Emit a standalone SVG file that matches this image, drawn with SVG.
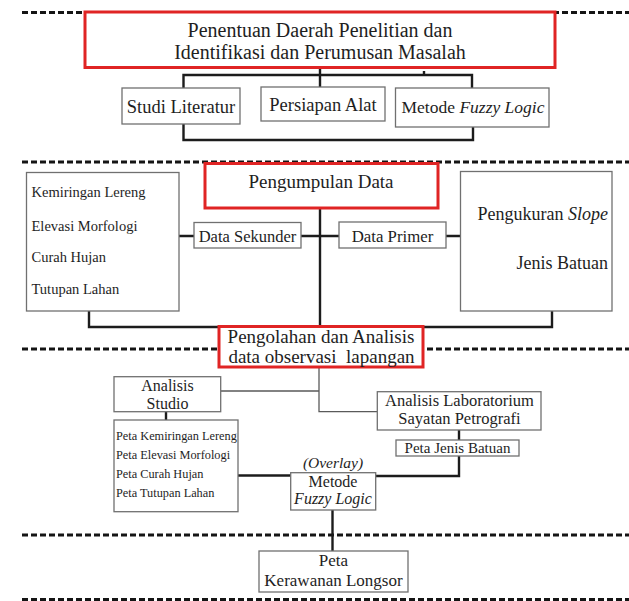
<svg xmlns="http://www.w3.org/2000/svg" width="629" height="601" viewBox="0 0 629 601">
<style>
.bg{fill:#ffffff}
.dash{stroke:#151515;stroke-width:2.8;stroke-dasharray:6 3;fill:none}
.box{fill:#ffffff;stroke:#707070;stroke-width:1.3}
.red{fill:#ffffff;stroke:#e02424;stroke-width:3}
.con{fill:none;stroke:#1c1c1c;stroke-width:2.4}
.thin{fill:none;stroke:#5a5a5a;stroke-width:1.3}
text{font-family:"Liberation Serif","Times New Roman",serif;fill:#1e1e1e}
.c{text-anchor:middle}
.e{text-anchor:end}
.i{font-style:italic}
</style>
<rect class="bg" x="0" y="0" width="629" height="601"/>
<g id="separators">
<line class="dash" x1="22" y1="12.5" x2="629" y2="12.5"/>
<line class="dash" x1="22" y1="162" x2="629" y2="162"/>
<line class="dash" x1="22" y1="349" x2="629" y2="349"/>
<line class="dash" x1="22" y1="535" x2="629" y2="535"/>
<line class="dash" x1="22" y1="599.5" x2="629" y2="599.5"/>
</g>
<g id="connectors">
<path class="con" d="M320,67.5 V75 M183.5,88 V75 H472 V88 M424,71 V75 M320,75 V87"/>
<path class="con" d="M183.5,124 V140 H473 V127"/>
<path class="con" d="M179,236 H194 M301,236 H339 M446,236 H460.5"/>
<path class="con" d="M320,208 V326.5"/>
<path class="con" d="M89,311 V327 H219 M552,311 V327 H423"/>
<path class="thin" d="M319,367 V411.7 H377.3 M220.7,391 H319"/>
<path class="con" d="M459,430 V440"/>
<path class="con" d="M459,456 V476 H375.7"/>
<path class="con" d="M166,411.7 V420"/>
<path class="con" d="M238,475.5 H290.7"/>
<path class="con" d="M332.5,510 V551"/>
</g>
<g id="n-penentuan">
<rect class="red" x="85" y="12" width="470" height="55.5"/>
<text class="c" x="320" y="37" font-size="20">Penentuan Daerah Penelitian dan</text>
<text class="c" x="320" y="58.5" font-size="20">Identifikasi dan Perumusan Masalah</text>
</g>
<g id="n-studi">
<rect class="box" x="122" y="88" width="118" height="36"/>
<text class="c" x="181" y="113" font-size="18.5">Studi Literatur</text>
</g>
<g id="n-persiapan">
<rect class="box" x="261" y="87" width="124" height="34"/>
<text class="c" x="323" y="110.5" font-size="18.5">Persiapan Alat</text>
</g>
<g id="n-metode1">
<rect class="box" x="395.5" y="88" width="153.5" height="39"/>
<text class="c" x="473" y="113" font-size="17.5">Metode <tspan class="i">Fuzzy Logic</tspan></text>
</g>
<g id="n-sekunder-list">
<rect class="box" x="26.5" y="172.5" width="152.5" height="138.5"/>
<text x="31.5" y="197" font-size="14.5">Kemiringan Lereng</text>
<text x="31.5" y="231" font-size="14.5">Elevasi Morfologi</text>
<text x="31.5" y="262" font-size="14.5">Curah Hujan</text>
<text x="31.5" y="294" font-size="14.5">Tutupan Lahan</text>
</g>
<g id="n-primer-list">
<rect class="box" x="460.5" y="171.5" width="151.5" height="139.5"/>
<text class="e" x="608" y="220" font-size="18">Pengukuran <tspan class="i">Slope</tspan></text>
<text class="e" x="608" y="268.5" font-size="18">Jenis Batuan</text>
</g>
<g id="n-pengumpulan">
<rect class="red" x="205" y="163.5" width="233" height="44.5"/>
<text class="c" x="321" y="188" font-size="19">Pengumpulan Data</text>
</g>
<g id="n-sekunder">
<rect class="box" x="194" y="222.5" width="107" height="25.5"/>
<text class="c" x="247.5" y="242" font-size="16.5">Data Sekunder</text>
</g>
<g id="n-primer">
<rect class="box" x="339" y="222" width="107" height="26"/>
<text class="c" x="392.5" y="242" font-size="16.8">Data Primer</text>
</g>
<g id="n-pengolahan">
<rect class="red" x="219" y="326.5" width="204" height="40.5"/>
<text class="c" x="321" y="343" font-size="19">Pengolahan dan Analisis</text>
<text class="c" x="321.5" y="363" font-size="19" xml:space="preserve">data observasi  lapangan</text>
</g>
<g id="n-studio">
<rect class="box" x="114" y="376.7" width="106.7" height="35"/>
<text class="c" x="167.5" y="390.5" font-size="16">Analisis</text>
<text class="c" x="167.5" y="408.5" font-size="16">Studio</text>
</g>
<g id="n-lab">
<rect class="box" x="377.3" y="391.7" width="163.7" height="38.3"/>
<text class="c" x="459.5" y="405.5" font-size="16.5">Analisis Laboratorium</text>
<text class="c" x="459.5" y="423.5" font-size="16.5">Sayatan Petrografi</text>
</g>
<g id="n-jenis">
<rect class="box" x="396" y="440" width="123" height="16"/>
<text class="c" x="457.5" y="453" font-size="15">Peta Jenis Batuan</text>
</g>
<g id="n-peta-list">
<rect class="box" x="114" y="420" width="124" height="91.7"/>
<text x="116" y="440" font-size="12.3">Peta Kemiringan Lereng</text>
<text x="116" y="459.3" font-size="12.3">Peta Elevasi Morfologi</text>
<text x="116" y="478" font-size="12.3">Peta Curah Hujan</text>
<text x="116" y="497" font-size="12.3">Peta Tutupan Lahan</text>
</g>
<g id="n-fuzzy">
<text class="c i" x="333" y="468" font-size="15.5">(Overlay)</text>
<rect class="box" x="290.7" y="472.7" width="85" height="37.3"/>
<text class="c" x="333" y="487" font-size="16">Metode</text>
<text class="c i" x="333" y="503.5" font-size="16">Fuzzy Logic</text>
</g>
<g id="n-kerawanan">
<rect class="box" x="259" y="551" width="149" height="41"/>
<text class="c" x="333.5" y="565.5" font-size="17">Peta</text>
<text class="c" x="333.5" y="585.5" font-size="17">Kerawanan Longsor</text>
</g>
</svg>
